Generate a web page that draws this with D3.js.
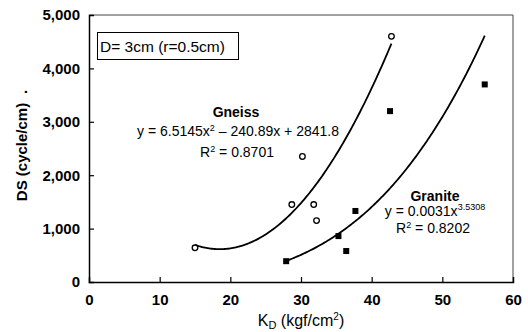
<!DOCTYPE html>
<html><head><meta charset="utf-8">
<script src="https://cdn.jsdelivr.net/npm/d3@7"></script>
<style>body{margin:0;background:#fff}svg{display:block}text{font-family:"Liberation Sans",Arial,sans-serif;fill:#000}</style>
</head><body><svg id="c" width="528" height="332"></svg>
<script>
const gneissX = [15, 28.7, 30.2, 31.8, 32.2, 42.8];
const gneissY = [640, 1450, 2350, 1450, 1150, 4600];
const graniteX = [27.9, 35.3, 36.4, 37.7, 42.6, 56.0];
const graniteY = [390, 860, 580, 1330, 3200, 3700];
const gneissFit = [6.5145, -240.89, 2841.8];   // y = a x^2 + b x + c
const gneissFitRange = [15, 42.8];
const graniteFit = [0.0031, 3.5308];           // y = a x^b
const graniteFitRange = [28, 56];
const xTicks = [0, 10, 20, 30, 40, 50, 60];
const yTicks = [0, 1000, 2000, 3000, 4000, 5000];

const svg = d3.select("#c");
const L = 89, R = 513, T = 15, B = 282;
const x = d3.scaleLinear().domain([0, 60]).range([L, R]);
const y = d3.scaleLinear().domain([0, 5000]).range([B, T]);

// frame
svg.append("line").attr("x1", L).attr("x2", R).attr("y1", T).attr("y2", T).attr("stroke", "#444").attr("stroke-width", 1);
svg.append("line").attr("x1", R).attr("x2", R).attr("y1", T).attr("y2", B).attr("stroke", "#444").attr("stroke-width", 1);

const yAxis = d3.axisLeft(y).tickValues(yTicks).tickSize(-5).tickPadding(9).tickFormat(d3.format(","));
const gy = svg.append("g").attr("transform", `translate(${L},0)`).call(yAxis);
const xAxis = d3.axisBottom(x).tickValues(xTicks).tickSize(-5).tickPadding(12).tickFormat(d3.format("d"));
const gx = svg.append("g").attr("transform", `translate(0,${B})`).call(xAxis);
[gx, gy].forEach(g => {
  g.select(".domain").attr("stroke", "#000").attr("stroke-width", 1.5);
  g.selectAll(".tick line").attr("stroke", "#000").attr("stroke-width", 1.2);
  g.selectAll(".tick text").attr("font-size", 15).attr("font-weight", "bold").attr("font-family", '"Liberation Sans",Arial,sans-serif');
});
gx.selectAll(".tick").filter(d => d === 0 || d === 60).select("line").remove();
gy.selectAll(".tick").filter(d => d === 0 || d === 5000).select("line").remove();

// fit curves
const line = d3.line().x(d => x(d[0])).y(d => y(d[1])).curve(d3.curveLinear);
const gPts = d3.range(gneissFitRange[0], gneissFitRange[1] + 0.001, 0.2).map(v => [v, gneissFit[0]*v*v + gneissFit[1]*v + gneissFit[2]]);
const rPts = d3.range(graniteFitRange[0], graniteFitRange[1] + 0.001, 0.2).map(v => [v, graniteFit[0]*Math.pow(v, graniteFit[1])]);
svg.append("path").attr("d", line(gPts)).attr("fill", "none").attr("stroke", "#000").attr("stroke-width", 1.8);
svg.append("path").attr("d", line(rPts)).attr("fill", "none").attr("stroke", "#000").attr("stroke-width", 1.8);

// points
svg.selectAll("circle.g").data(gneissX.map((v, i) => [v, gneissY[i]])).enter().append("circle")
  .attr("cx", d => x(d[0])).attr("cy", d => y(d[1])).attr("r", 2.8)
  .attr("fill", "#fff").attr("stroke", "#000").attr("stroke-width", 1.3);
svg.selectAll("rect.r").data(graniteX.map((v, i) => [v, graniteY[i]])).enter().append("rect")
  .attr("x", d => x(d[0]) - 3).attr("y", d => y(d[1]) - 3).attr("width", 6).attr("height", 6).attr("fill", "#000");

// legend box
svg.append("rect").attr("x", 97.5).attr("y", 32.5).attr("width", 141).attr("height", 27).attr("fill", "#fff").attr("stroke", "#000").attr("stroke-width", 1);
svg.append("text").attr("x", 100).attr("y", 52).attr("font-size", 15.5).text("D= 3cm (r=0.5cm)");

// annotations
svg.append("text").attr("x", 236).attr("y", 117).attr("text-anchor", "middle").attr("font-size", 14).attr("font-weight", "bold").text("Gneiss");
const eq1 = svg.append("text").attr("x", 238).attr("y", 136).attr("text-anchor", "middle").attr("font-size", 14);
eq1.append("tspan").text("y = 6.5145x");
eq1.append("tspan").attr("font-size", 9).attr("dy", -5).text("2");
eq1.append("tspan").attr("dy", 5).text(" – 240.89x + 2841.8");
const r1 = svg.append("text").attr("x", 237).attr("y", 157).attr("text-anchor", "middle").attr("font-size", 14);
r1.append("tspan").text("R");
r1.append("tspan").attr("font-size", 9).attr("dy", -5).text("2");
r1.append("tspan").attr("dy", 5).text(" = 0.8701");

svg.append("text").attr("x", 435).attr("y", 201).attr("text-anchor", "middle").attr("font-size", 14).attr("font-weight", "bold").text("Granite");
const eq2 = svg.append("text").attr("x", 435).attr("y", 216).attr("text-anchor", "middle").attr("font-size", 14);
eq2.append("tspan").text("y = 0.0031x");
eq2.append("tspan").attr("font-size", 9).attr("dy", -6).text("3.5308");
const r2 = svg.append("text").attr("x", 433).attr("y", 233).attr("text-anchor", "middle").attr("font-size", 14);
r2.append("tspan").text("R");
r2.append("tspan").attr("font-size", 9).attr("dy", -5).text("2");
r2.append("tspan").attr("dy", 5).text(" = 0.8202");

// axis titles
const xt = svg.append("text").attr("x", 301).attr("y", 326).attr("text-anchor", "middle").attr("font-size", 16);
xt.append("tspan").text("K");
xt.append("tspan").attr("font-size", 11).attr("dy", 3).text("D");
xt.append("tspan").attr("dy", -3).text(" (kgf/cm");
xt.append("tspan").attr("font-size", 10).attr("dy", -6).text("2");
xt.append("tspan").attr("dy", 6).text(")");

svg.append("text").attr("transform", "translate(27,152) rotate(-90)").attr("text-anchor", "middle")
  .attr("font-size", 15).attr("font-weight", "bold").text("DS (cycle/cm)");
svg.append("text").attr("transform", "translate(27,92) rotate(-90)").attr("text-anchor", "middle")
  .attr("font-size", 15).attr("font-weight", "bold").text(".");
</script></body></html>
